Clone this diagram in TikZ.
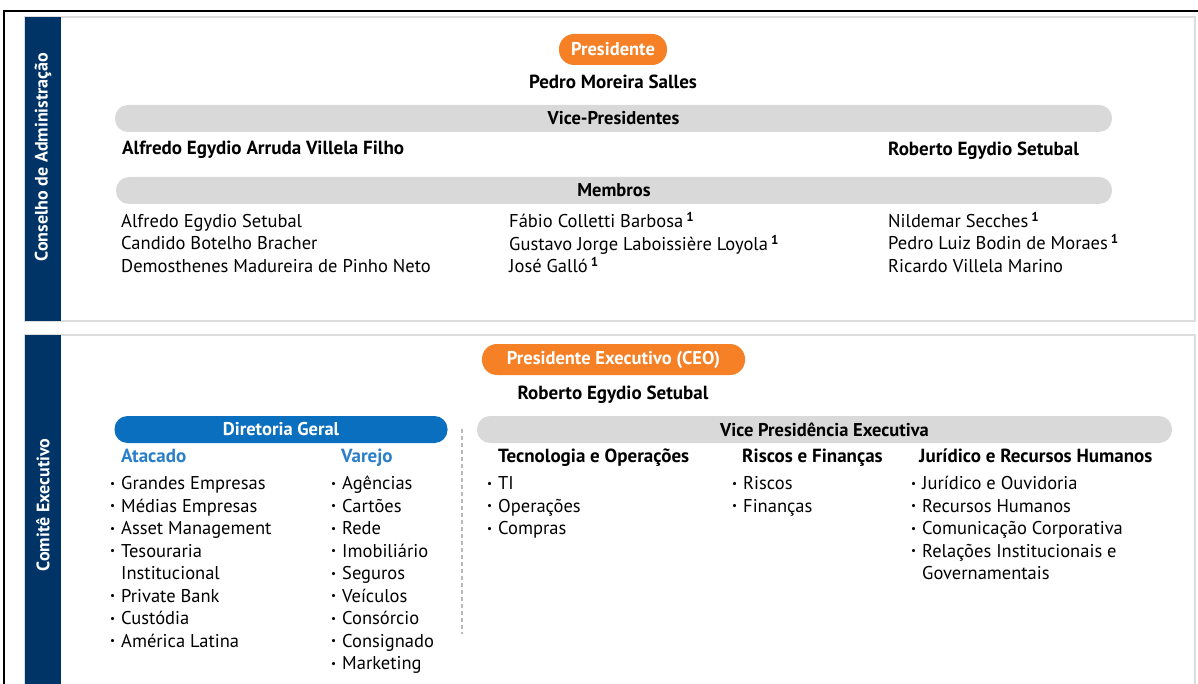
\documentclass[tikz,border=0pt]{standalone}
\usepackage{fontspec}
\setmainfont{PT Sans}
\usepackage{xcolor}

\definecolor{bandnavy}{RGB}{0,52,102}
\definecolor{pillorange}{RGB}{245,128,37}
\definecolor{barblue}{RGB}{11,111,191}
\definecolor{headblue}{RGB}{42,127,201}
\definecolor{bargray}{RGB}{217,217,217}
\definecolor{framegray}{RGB}{221,221,221}

\newcommand{\bul}{\makebox[11pt][l]{\raisebox{0.12em}{\scalebox{0.6}{\textbullet}}}}
\newcommand{\fn}{\,\textsuperscript{\bfseries 1}}

\tikzset{
  pill/.style={fill=pillorange, text=white, rounded corners=15pt, inner sep=0pt,
    font=\fontsize{18.5}{21}\selectfont\bfseries},
  graybar/.style={fill=bargray, rounded corners=13pt, inner sep=0pt, minimum height=27pt,
    font=\fontsize{18.5}{21}\selectfont\bfseries},
  bluebar/.style={graybar, fill=barblue, text=white},
  bandlabel/.style={rotate=90, text=white, inner sep=0pt, font=\fontsize{18}{21}\selectfont\bfseries},
  person/.style={anchor=base west, inner sep=0pt, font=\fontsize{18.5}{21}\selectfont},
  boldperson/.style={person, font=\fontsize{19}{21}\selectfont\bfseries},
  chief/.style={anchor=base, inner sep=0pt, font=\fontsize{19}{21}\selectfont\bfseries},
  area/.style={boldperson},
  bluearea/.style={boldperson, text=headblue},
  item/.style={person}
}

\begin{document}
\begin{tikzpicture}[x=1pt,y=-1pt]
  \clip (0,0) rectangle (1198,684);
  \fill[white] (0,0) rectangle (1198,684);
  % outer frame
  \draw[line width=2.5pt] (4,700) |- (1210,11);

  % Conselho de Administracao
  \draw[framegray, line width=1.5pt] (25,17) rectangle (1195,321);
  \fill[bandnavy] (25,17) rectangle (61,321);
  \node[bandlabel] (cons) at (43,157) {Conselho de Administração};

  \node[pill, minimum width=108pt, minimum height=31pt] (pres) at (613,49.5) {Presidente};
  \node[chief] (presname) at (613,88.5) {Pedro Moreira Salles};

  \node[graybar, minimum width=997pt] (vicebar) at (613.5,118.5) {Vice-Presidentes};
  \node[boldperson] (vice1) at (122,154.5) {Alfredo Egydio Arruda Villela Filho};
  \node[boldperson] (vice2) at (888,155.5) {Roberto Egydio Setubal};

  \node[graybar, minimum width=996pt] (membar) at (614,190.5) {Membros};
  \foreach \txt [count=\i] in {Alfredo Egydio Setubal, Candido Botelho Bracher,
      Demosthenes Madureira de Pinho Neto}
    \node[person] (mema\i) at (121,{227.5+22.5*(\i-1)}) {\txt};
  \foreach \txt [count=\i] in {Fábio Colletti Barbosa\fn, Gustavo Jorge Laboissière Loyola\fn,
      José Galló\fn}
    \node[person] (memb\i) at (509,{228+22.5*(\i-1)}) {\txt};
  \foreach \txt [count=\i] in {Nildemar Secches\fn, Pedro Luiz Bodin de Moraes\fn,
      Ricardo Villela Marino}
    \node[person] (memc\i) at (888,{227.5+22.5*(\i-1)}) {\txt};

  % Comite Executivo
  \draw[framegray, line width=1.5pt] (25,335) rectangle (1195,720);
  \fill[bandnavy] (25,335) rectangle (61,720);
  \node[bandlabel] (comite) at (43,505) {Comitê Executivo};

  \node[pill, minimum width=263pt, minimum height=31pt] (ceo) at (613.5,359.5) {Presidente Executivo (CEO)};
  \node[chief] (ceoname) at (613,399) {Roberto Egydio Setubal};

  \node[bluebar, minimum width=333pt] (dirbar) at (281,429.5) {Diretoria Geral};
  \node[graybar, minimum width=695pt] (vpebar) at (824.5,429.5) {Vice Presidência Executiva};

  \coordinate (dashtop) at (462,429);
  \coordinate (dashbot) at (462,634);
  \draw[gray!55, line width=1.3pt, dash pattern=on 4pt off 3pt] (dashtop) -- (dashbot);

  % Diretoria Geral
  \node[bluearea] (atacado) at (121,462.5) {Atacado};
  \node[bluearea] (varejo) at (341,462.5) {Varejo};
  \foreach \txt [count=\i] in {\bul Grandes Empresas, \bul Médias Empresas, \bul Asset Management,
      \bul Tesouraria, \hspace*{11pt}Institucional, \bul Private Bank, \bul Custódia,
      \bul América Latina}
    \node[item] (atk\i) at (110,{489.5+22.5*(\i-1)}) {\txt};
  \foreach \txt [count=\i] in {\bul Agências, \bul Cartões, \bul Rede, \bul Imobiliário,
      \bul Seguros, \bul Veículos, \bul Consórcio, \bul Consignado, \bul Marketing}
    \node[item] (var\i) at (331,{489.5+22.5*(\i-1)}) {\txt};

  % Vice Presidencia Executiva
  \node[area] (tecop) at (498,462.5) {Tecnologia e Operações};
  \node[area] (riscfin) at (742,462.5) {Riscos e Finanças};
  \node[area] (jurrh) at (919,462.5) {Jurídico e Recursos Humanos};
  \foreach \txt [count=\i] in {\bul TI, \bul Operações, \bul Compras}
    \node[item] (tec\i) at (487,{489.5+22.5*(\i-1)}) {\txt};
  \foreach \txt [count=\i] in {\bul Riscos, \bul Finanças}
    \node[item] (ris\i) at (732,{489.5+22.5*(\i-1)}) {\txt};
  \foreach \txt [count=\i] in {\bul Jurídico e Ouvidoria, \bul Recursos Humanos,
      \bul Comunicação Corporativa, \bul Relações Institucionais e,
      \hspace*{11pt}Governamentais}
    \node[item] (jur\i) at (911,{489.5+22.5*(\i-1)}) {\txt};
\end{tikzpicture}
\end{document}
